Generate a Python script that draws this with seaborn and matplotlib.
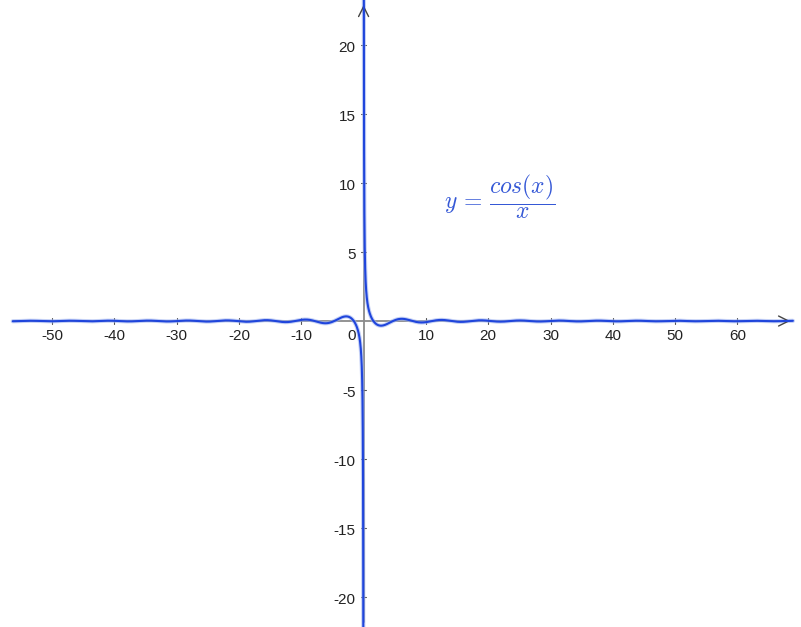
import numpy as np
import pandas as pd
import matplotlib
matplotlib.use("Agg")
import matplotlib.pyplot as plt
import seaborn as sns

# ---- data ----
x_ticks = [-50, -40, -30, -20, -10, 10, 20, 30, 40, 50, 60]
x_tick_labels = ["-50", "-40", "-30", "-20", "-10", "10", "20", "30", "40", "50", "60"]
y_ticks = [-20, -15, -10, -5, 5, 10, 15, 20]
y_tick_labels = ["-20", "-15", "-10", "-5", "5", "10", "15", "20"]
x_min, x_max = -56.3, 68.9          # drawn extent of the function / x axis
y_axis_min, y_axis_max = -21.8, 23.1
formula = r"$y\,=\,\dfrac{cos(x)}{x}$"

# function samples y = cos(x)/x (the plotted function), on both branches
x_neg = -np.concatenate([np.geomspace(0.03, 1, 200), np.linspace(1, -x_min, 1500)[1:]])[::-1]
x_pos = np.concatenate([np.geomspace(0.03, 1, 200), np.linspace(1, x_max, 1500)[1:]])
df = pd.DataFrame({
    "x": np.concatenate([x_neg, x_pos]),
    "branch": ["neg"] * len(x_neg) + ["pos"] * len(x_pos),
})
df["y"] = np.cos(df["x"]) / df["x"]

# ---- figure ----
sns.set_theme(style="white")
plt.rcParams["font.family"] = ["Liberation Sans", "DejaVu Sans"]
plt.rcParams["mathtext.fontset"] = "cm"

fig = plt.figure(figsize=(8.01, 6.27), dpi=100)
ax = fig.add_axes([0, 0, 1, 1])
ax.set_xlim(-58.35, 70.2)
ax.set_ylim(-22.17, 23.26)
ax.axis("off")

axis_col = "#8a8a8a"
# axes lines
ax.plot([x_min, x_max - 0.3], [0, 0], color=axis_col, lw=1.3, zorder=1)
ax.plot([0, 0], [y_axis_min, y_axis_max - 0.2], color=axis_col, lw=1.3, zorder=1)
# arrowheads (open chevrons)
ax.annotate("", xy=(x_max, 0), xytext=(x_max - 2, 0),
            arrowprops=dict(arrowstyle="->,head_length=0.6,head_width=0.3", color="#444444", lw=1.0))
ax.annotate("", xy=(0, y_axis_max), xytext=(0, y_axis_max - 1),
            arrowprops=dict(arrowstyle="->,head_length=0.6,head_width=0.3", color="#444444", lw=1.0))

# tick marks
for t in x_ticks:
    ax.plot([t, t], [-0.22, 0.22], color="#555555", lw=0.8, zorder=1)
for t in y_ticks:
    ax.plot([-0.35, 0.35], [t, t], color="#555555", lw=0.8, zorder=1)

# curve
line_col = "#1f45dc"
for b, sub in df.groupby("branch"):
    sns.lineplot(data=sub, x="x", y="y", ax=ax, color="#9fb3f0", lw=3.0,
                 estimator=None, sort=False, legend=False, zorder=2, alpha=0.6)
    sns.lineplot(data=sub, x="x", y="y", ax=ax, color=line_col, lw=1.5,
                 estimator=None, sort=False, legend=False, zorder=3)
ax.axis("off")

# tick labels
fs = 11
for t, lab in zip(x_ticks, x_tick_labels):
    ax.text(t, -1.1, lab, ha="center", va="center", fontsize=fs, color="#222222")
for t, lab in zip(y_ticks, y_tick_labels):
    ax.text(-1.3, t - 0.2, lab, ha="right", va="center", fontsize=fs, color="#222222")
ax.text(-1.3, -1.1, "0", ha="right", va="center", fontsize=fs, color="#222222")

# formula
ax.text(21.9, 9.0, formula, ha="center", va="center", fontsize=17, color="#3558d6")

fig.savefig("out.png", dpi=100)
